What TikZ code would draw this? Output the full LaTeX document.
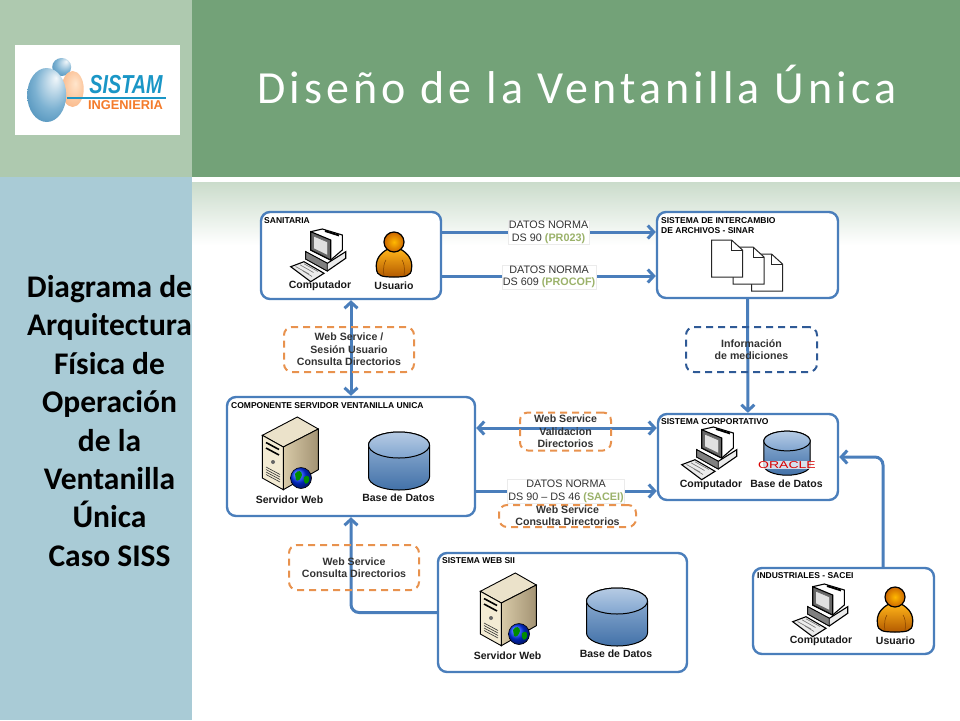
\documentclass[tikz,border=0pt]{standalone}
\usepackage{fontspec}
\setmainfont{Liberation Sans}
\newfontfamily\titlefont[LetterSpace=9]{Carlito}
\newfontfamily\sidefont{Carlito}
\usetikzlibrary{arrows.meta,shapes.geometric}
\definecolor{azul}{HTML}{4A7EBB}
\definecolor{naranja}{HTML}{E8924E}
\definecolor{azuloscuro}{HTML}{2F5A96}
\definecolor{verdeclaro}{HTML}{9BB26A}
\definecolor{cabecera}{HTML}{73A278}
\definecolor{cabeceraclara}{HTML}{AEC9AF}
\definecolor{lateral}{HTML}{A9CBD6}
\definecolor{logoazul}{HTML}{1A96C6}
\definecolor{logonaranja}{HTML}{F47B2A}
\definecolor{bolaclara}{HTML}{7DB2D2}
\definecolor{bolaoscura}{HTML}{1F6FA3}
\definecolor{crema}{HTML}{F3EBD3}
\definecolor{cremaclara}{HTML}{EBE2CA}
\definecolor{arena}{HTML}{D8CAA8}
\definecolor{arenaoscura}{HTML}{A39373}
\pgfdeclareradialshading{esfera}{\pgfpoint{12bp}{16bp}}{color(0bp)=(white!90!bolaclara); color(22bp)=(bolaclara); color(50bp)=(bolaoscura)}
\pgfdeclareradialshading{esferana}{\pgfpoint{6bp}{8bp}}{color(0bp)=(white!80!orange); color(50bp)=(logonaranja!75!white)}
\tikzset{
	caja/.style={draw=azul, line width=2.4pt, rounded corners=9pt, fill=white, inner sep=0pt},
	punteado/.style={draw=#1, line width=2pt, rounded corners=8pt, dash pattern=on 7pt off 5pt, inner sep=0pt, align=center, font=\fontsize{10.6}{12.4}\selectfont\bfseries, text=black!80},
	datos/.style={fill=white, draw=black!8, line width=.4pt, inner sep=1pt, align=center, text=black!80, font=\fontsize{10.8}{12.6}\selectfont},
	titulo/.style={anchor=west, inner sep=0pt, align=left, font=\fontsize{8.5}{10}\selectfont\bfseries},
	rotulo/.style={inner sep=0pt, font=\fontsize{10.5}{12}\selectfont\bfseries, text=black!90},
	linea/.style={draw=azul, line width=3pt},
	flecha/.style={linea, -{Straight Barb[length=6pt,width=13pt]}},
	flechas/.style={linea, {Straight Barb[length=6pt,width=13pt]}-{Straight Barb[length=6pt,width=13pt]}},
	pics/computador/.style={code={
		\filldraw[fill=black!8, line width=1.1pt] (-13.3,-3.3) -- (8.3,8.3) -- (26.7,-3.3) -- (26.7,3.3) -- (8.3,16) -- (-13.3,4) -- cycle;
		\filldraw[fill=black!50, line width=.7pt] (-13.3,-3.3) -- (8.3,8.3) -- (8.3,16) -- (-13.3,4) -- cycle;
		\filldraw[fill=white, line width=1.1pt] (-8.3,-23.3) -- (3.3,-26) -- (23.3,-20) -- (23.3,-5) -- (11.7,5) -- (-8.3,-5) -- cycle;
		\filldraw[fill=black!60, line width=1.1pt] (-8.3,-23.3) -- (11.7,-15) -- (11.7,5) -- (-8.3,-5) -- cycle;
		\filldraw[fill=black!12, draw=black!60, line width=.6pt] (-5.5,-19) -- (8.7,-13) -- (8.7,.5) -- (-5.5,-6.5) -- cycle;
		\draw[line width=1.8pt] (6,-24) -- (20,-19.5);
		\filldraw[fill=black!8, line width=1.1pt] (-28.3,11.7) -- (-15,6.7) -- (5,18.3) -- (-8.3,26.7) -- cycle;
		\draw[black!55, line width=.6pt] (-23.5,11.5) -- (-10,19) (-19,9.8) -- (-5.5,17.5) (-15,8.8) -- (-1,16.5) (-16,16) -- (-7,21.5);
	}},
	pics/usuario/.style={code={
		\filldraw[top color=orange!65!yellow!90!white, bottom color=orange!70!black, line width=1.2pt] (-17.5,14) .. controls (-19,5) and (-14,-2) .. (-6,-6) -- (6,-6) .. controls (14,-2) and (19,5) .. (17.5,14) .. controls (17,21) and (12,22) .. (0,22) .. controls (-12,22) and (-17,21) .. (-17.5,14) -- cycle;
		\filldraw[inner color=orange!55!yellow, outer color=orange!80!black, line width=1.2pt] (0,-13) circle (10);
		\draw[orange!50!black, line width=.5pt] (-10,21) .. controls (-11,12) and (-10,8) .. (-8,5) (10,21) .. controls (11,12) and (10,8) .. (8,5);
	}},
	pics/servidor/.style={code={
		\filldraw[fill=cremaclara, line width=.9pt] (-27.7,-17.7) -- (7.3,-36) -- (28.3,-24) -- (-6.7,-6) -- cycle;
		\filldraw[left color=arena, right color=arenaoscura, line width=.9pt] (-6.7,-6) -- (28.3,-24) -- (28.3,16.7) -- (-6.7,36.7) -- cycle;
		\filldraw[fill=crema, line width=.9pt] (-27.7,-17.7) -- (-6.7,-6) -- (-6.7,36.7) -- (-27.7,25) -- cycle;
		\draw[line width=1.6pt] (-24,-10.5) -- (-11,-3.5) (-24,-5) -- (-11,2);
		\fill[black!60] (-17,9) circle (2);
		\draw[black!80, line width=.6pt] (-24,14) -- (-10,21.5) (-24,16.5) -- (-10,24) (-24,19) -- (-10,26.5) (-24,21.5) -- (-10,29);
		\shade[ball color=blue!80!cyan, draw=black, line width=.6pt] (11,25) circle (10.5);
		\fill[green!55!black] (5,21) .. controls (8,16) and (12,18) .. (12,22) .. controls (11,26) and (8,29) .. (6,27) -- cycle;
		\fill[green!55!black] (14,24) .. controls (18,21) and (20,24) .. (19,28) .. controls (17,33) and (13,31) .. (14,24) -- cycle;
	}},
	pics/cilindro/.style={code={
		\filldraw[top color=azul!55!white, bottom color=azul!90!black, line width=1pt] (-30.5,0) -- (-30.5,32) arc[start angle=180, end angle=360, x radius=30.5, y radius=-13] -- (30.5,0) arc[start angle=0, end angle=180, x radius=30.5, y radius=-13] -- cycle;
		\filldraw[top color=azul!40, bottom color=azul!70, line width=1pt] (0,0) ellipse [x radius=30.5, y radius=13];
	}},
	pics/pagina/.style={code={
		\filldraw[fill=white, draw=black!85, line width=1pt] (0,0) -- (20,0) -- (31,10) -- (31,37) -- (0,37) -- cycle;
		\draw[draw=black!85, line width=.8pt] (20,0) -- (20,10) -- (31,10);
	}},
}
\begin{document}
\begin{tikzpicture}[x=1pt, y=-1pt]
	\useasboundingbox (0,0) rectangle (960,720);
	\fill[cabeceraclara] (0,0) rectangle (192,177);
	\fill[cabecera] (192,0) rectangle (960,177);
	\fill[lateral] (0,177) rectangle (192,720);
	\shade[top color=cabeceraclara!65, bottom color=white] (192,182) rectangle (960,245);

	\node[fill=white, minimum width=165pt, minimum height=90pt, inner sep=0pt] (LOGO) at (97.5,90) {};
	\shade[shading=esfera] (61.7,67) ellipse [x radius=9.5, y radius=9];
	\shade[shading=esferana] (72.7,89) ellipse [x radius=11, y radius=18];
	\shade[shading=esfera] (46.7,95) ellipse [x radius=19.5, y radius=27];
	\fill[logoazul] (67,96.5) rectangle (165.7,99);
	\node[inner sep=0pt, text=logoazul, font=\fontsize{26}{26}\selectfont\bfseries\itshape] (SISTAM) at (126,84.5) {\scalebox{.76}[1]{SISTAM}};
	\node[inner sep=0pt, text=logonaranja, font=\fontsize{12.8}{13}\selectfont\bfseries] (INGENIERIA) at (125.5,105.5) {INGENIERIA};

	\node[inner sep=0pt, text=white, font=\titlefont\fontsize{46}{48}\selectfont] (TITULO) at (577,84) {Diseño de la Ventanilla Única};
	\node[inner sep=0pt, align=center, font=\sidefont\fontsize{31.5}{38.4}\selectfont\bfseries] (LADO) at (109.5,421) {Diagrama de\\Arquitectura\\Física de\\Operación\\de la\\Ventanilla\\Única\\Caso SISS};

	\node[caja, minimum width=180pt, minimum height=87pt] (SAN) at (351,255.5) {};
	\node[caja, minimum width=181pt, minimum height=86pt] (SINAR) at (747.5,255) {};
	\node[caja, minimum width=248pt, minimum height=119pt] (COMP) at (351,456.5) {};
	\node[caja, minimum width=180pt, minimum height=86pt] (CORP) at (748,457) {};
	\node[caja, minimum width=249pt, minimum height=119pt] (SII) at (562.5,612.5) {};
	\node[caja, minimum width=181pt, minimum height=86pt] (IND) at (843.5,611) {};

	\coordinate (yA) at (550,232);
	\coordinate (yB) at (550,276);
	\coordinate (yC) at (566,428);
	\coordinate (yD) at (566,491);
	\coordinate (xE) at (883,568);
	\draw[flecha] (SAN.east |- yA) -- (SINAR.west |- yA);
	\draw[flecha] (SAN.east |- yB) -- (SINAR.west |- yB);
	\draw[flechas] (SAN) -- (COMP);
	\draw[flecha] (SINAR) -- (CORP);
	\draw[flechas] (COMP.east |- yC) -- (CORP.west |- yC);
	\draw[flecha] (COMP.east |- yD) -- (CORP.west |- yD);
	\draw[flecha, rounded corners=8pt] (SII.west) -| (COMP.south);
	\draw[flecha, rounded corners=8pt] (xE) |- (CORP.east);

	\node[titulo] (tSAN) at (264,220.5) {SANITARIA};
	\node[titulo] (tSINAR) at (661,225.5) {SISTEMA DE INTERCAMBIO\\DE ARCHIVOS - SINAR};
	\node[titulo] (tCOMP) at (231,405.5) {COMPONENTE SERVIDOR VENTANILLA UNICA};
	\node[titulo] (tCORP) at (661,422) {SISTEMA CORPORTATIVO};
	\node[titulo] (tSII) at (442,561) {SISTEMA WEB SII};
	\node[titulo] (tIND) at (757,575.5) {INDUSTRIALES - SACEI};

	\pic (pcSAN) at (319,255) {computador};
	\pic (usSAN) at (394,255) {usuario};
	\node[rotulo] (rPC1) at (320,285.5) {Computador};
	\node[rotulo] (rUS1) at (394,285.5) {Usuario};

	\pic (pagC) at (751.5,254) {pagina};
	\pic (pagB) at (733,247) {pagina};
	\pic (pagA) at (711.5,240) {pagina};

	\pic (srvCOMP) at (290,453) {servidor};
	\pic (dbCOMP) at (399,445) {cilindro};
	\node[rotulo] (rSRV1) at (289.5,499.5) {Servidor Web};
	\node[rotulo] (rDB1) at (398.5,497.5) {Base de Datos};

	\pic (pcCORP) at (710,453) {computador};
	\pic[scale=.76] (dbCORP) at (787,441) {cilindro};
	\node[fill=white, fill opacity=.75, text opacity=1, inner xsep=.5pt, inner ysep=0pt, text=red!85!black, font=\fontsize{10}{10}\selectfont] (ORACLE) at (787,465) {\scalebox{1.4}[1]{ORACLE}};
	\node[rotulo] (rPC2) at (711,484.5) {Computador};
	\node[rotulo] (rDB2) at (786.5,484) {Base de Datos};

	\pic (srvSII) at (508,609) {servidor};
	\pic (dbSII) at (617,601) {cilindro};
	\node[rotulo] (rSRV2) at (507.5,655.5) {Servidor Web};
	\node[rotulo] (rDB2b) at (616,653.5) {Base de Datos};

	\pic (pcIND) at (821,610) {computador};
	\pic (usIND) at (895,610) {usuario};
	\node[rotulo] (rPC3) at (821,640.5) {Computador};
	\node[rotulo] (rUS3) at (895.5,641) {Usuario};

	\node[datos] (dPR) at (548.5,232.5) {DATOS NORMA\\DS 90 \textcolor{verdeclaro}{\textbf{(PR023)}}};
	\node[datos] (dPROCOF) at (549,277) {DATOS NORMA\\DS 609 \textcolor{verdeclaro}{\textbf{(PROCOF)}}};
	\node[datos] (dSACEI) at (566,491.5) {DATOS NORMA\\DS 90 – DS 46 \textcolor{verdeclaro}{\textbf{(SACEI)}}};

	\node[punteado=naranja, minimum width=130pt, minimum height=45pt] (wSES) at (349,349.5) {Web Service /\\Sesión Usuario\\Consulta Directorios};
	\node[punteado=azuloscuro, minimum width=131pt, minimum height=45pt] (wINF) at (751.5,349.5) {Información\\de mediciones};
	\node[punteado=naranja, minimum width=91pt, minimum height=38pt] (wVAL) at (565.5,431.5) {Web Service\\Validacion\\Directorios};
	\node[punteado=naranja, minimum width=137pt, minimum height=22pt] (wCON) at (567.5,516) {Web Service\\Consulta Directorios};
	\node[punteado=naranja, minimum width=130pt, minimum height=45pt] (wCON2) at (354,567.5) {Web Service\\Consulta Directorios};
\end{tikzpicture}
\end{document}
